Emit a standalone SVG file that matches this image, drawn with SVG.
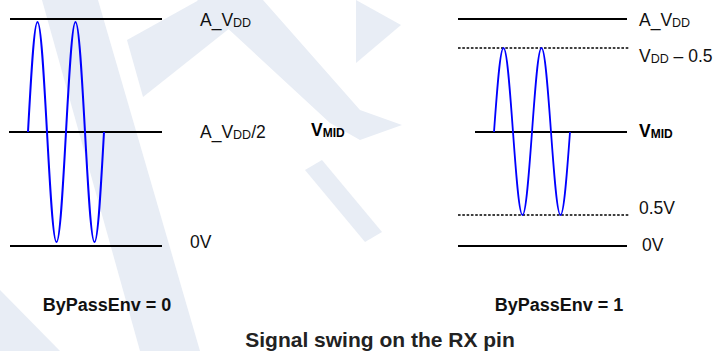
<svg xmlns="http://www.w3.org/2000/svg" width="716" height="351" viewBox="0 0 716 351">
  <style>
    .wm { fill: #e8edf5; stroke: none; }
    .lvl { stroke: #000; stroke-width: 2; fill: none; }
    .dot { stroke: #000; stroke-width: 1.5; stroke-dasharray: 2.6 1.7; fill: none; }
    .wave { stroke: #0000ff; stroke-width: 2; fill: none; stroke-linejoin: round; }
    .lbl { font-family: "Liberation Sans", Arial, sans-serif; font-size: 17.5px; fill: #111; }
    .sub { font-size: 12.5px; }
    .bld { font-family: "Liberation Sans", Arial, sans-serif; font-weight: bold; font-size: 17.5px; fill: #000; }
    .bsub { font-size: 12px; }
    .cap { font-family: "Liberation Sans", Arial, sans-serif; font-weight: bold; font-size: 18px; fill: #111; text-anchor: middle; }
    .ttl { font-family: "Liberation Sans", Arial, sans-serif; font-weight: bold; font-size: 21px; fill: #222; text-anchor: middle; }
  </style>

  <g id="watermark">
    <polygon class="wm" points="42,0 98,0 200,351 140,351"/>
    <polygon class="wm" points="197,0 263,0 360,110 402,125 360,140 330,123"/>
    <polygon class="wm" points="127,40 217,-10 240,20 143,97"/>
    <polygon class="wm" points="356,0 401,25 356,63"/>
    <polygon class="wm" points="305,170 322,160 382,232 365,242"/>
    <polygon class="wm" points="0,290 0,351 60,351"/>
  </g>

  <g id="connectors">
    <!-- left panel levels -->
    <line class="lvl" x1="10" y1="19" x2="162" y2="19"/>
    <line class="lvl" x1="9" y1="132" x2="162" y2="132"/>
    <line class="lvl" x1="10" y1="246" x2="162" y2="246"/>
    <!-- right panel levels -->
    <line class="lvl" x1="458" y1="19" x2="627" y2="19"/>
    <line class="dot" x1="458" y1="48" x2="629" y2="48"/>
    <line class="lvl" x1="475" y1="132" x2="627" y2="132"/>
    <line class="dot" x1="458" y1="215" x2="629" y2="215"/>
    <line class="lvl" x1="458" y1="246" x2="627" y2="246"/>
  </g>

  <g id="wave-left">
    <path class="wave" d="M28,132
      c3.098,-56.35 6.062,-110 9.5,-110 c3.438,0 6.402,53.65 9.5,110
      c3.098,56.35 6.062,110 9.5,110 c3.438,0 6.402,-53.65 9.5,-110
      c3.098,-56.35 6.062,-110 9.5,-110 c3.438,0 6.402,53.65 9.5,110
      c3.098,56.35 6.062,110 9.5,110 c3.438,0 6.402,-53.65 9.5,-110"/>
  </g>

  <g id="wave-right">
    <path class="wave" style="stroke-width:1.8" d="M494,132
      c3.098,-43.03 6.062,-84 9.5,-84 c3.438,0 6.402,40.97 9.5,84
      c3.098,42.52 6.062,83 9.5,83 c3.438,0 6.402,-40.48 9.5,-83
      c3.098,-43.03 6.062,-84 9.5,-84 c3.438,0 6.402,40.97 9.5,84
      c3.098,42.52 6.062,83 9.5,83 c3.438,0 6.402,-40.48 9.5,-83"/>
  </g>

  <g id="labels-left">
    <text class="lbl" x="200" y="26">A_V<tspan class="sub" dy="1">DD</tspan></text>
    <text class="lbl" x="200" y="138">A_V<tspan class="sub" dy="1">DD</tspan><tspan dy="-1">/2</tspan></text>
    <text class="lbl" x="190" y="248">0V</text>
    <text class="bld" x="311" y="136">V<tspan class="bsub" dy="1">MID</tspan></text>
  </g>

  <g id="labels-right">
    <text class="lbl" x="639" y="26">A_V<tspan class="sub" dy="1">DD</tspan></text>
    <text class="lbl" x="639" y="62">V<tspan class="sub" dy="1">DD</tspan><tspan dy="-1"> – 0.5</tspan></text>
    <text class="bld" x="639" y="137">V<tspan class="bsub" dy="1">MID</tspan></text>
    <text class="lbl" x="639" y="214">0.5V</text>
    <text class="lbl" x="642" y="251">0V</text>
  </g>

  <g id="captions">
    <text class="cap" x="107" y="311">ByPassEnv = 0</text>
    <text class="cap" x="559" y="311">ByPassEnv = 1</text>
    <text class="ttl" x="380" y="346.5">Signal swing on the RX pin</text>
  </g>
</svg>
